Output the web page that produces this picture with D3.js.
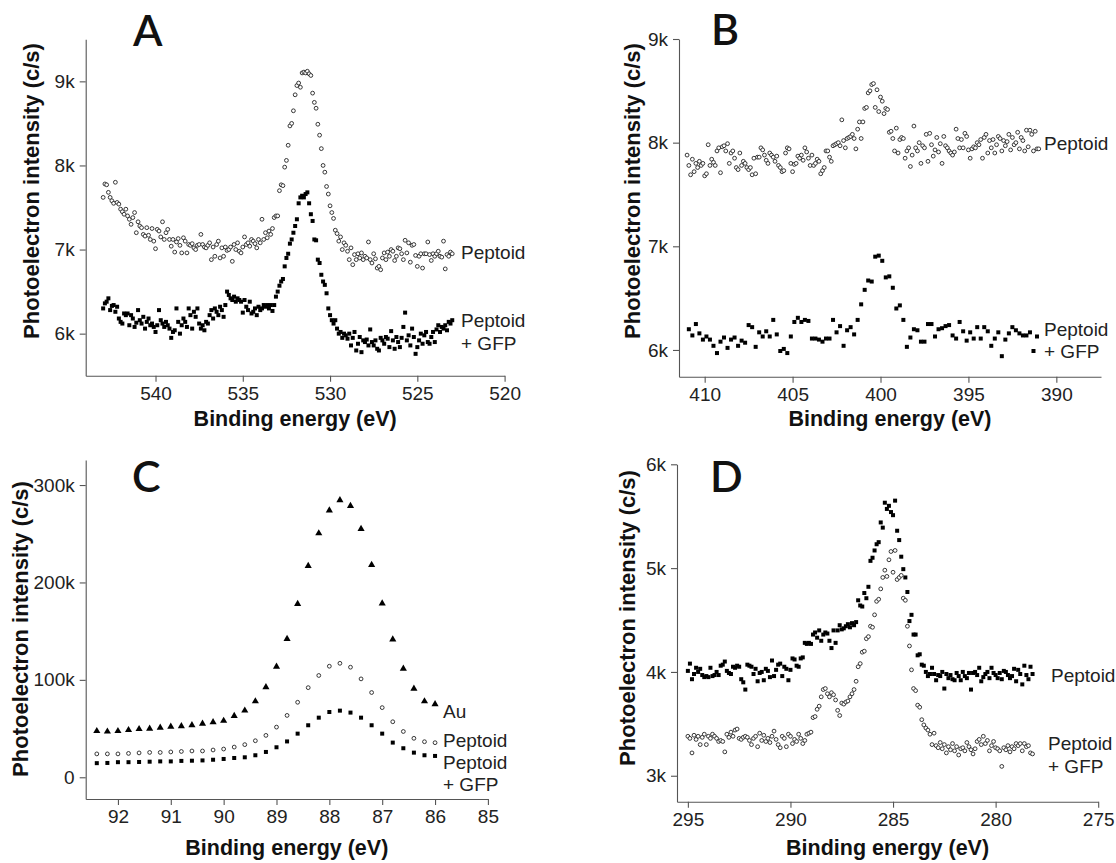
<!DOCTYPE html>
<html>
<head>
<meta charset="utf-8">
<script src="https://cdn.jsdelivr.net/npm/d3@7"></script>
<style>
body { margin: 0; background: #fff; }
svg text { font-family: "Liberation Sans", Arial, sans-serif; }
</style>
</head>
<body>
<svg id="chart" width="1116" height="863"></svg>
<script>
// ---- data : [binding energy (eV), intensity (k c/s)] ----

// panel A, O 1s
var peptoidA = [
[543.0,7.62],[542.9,7.78],[542.8,7.77],[542.7,7.68],[542.6,7.62],[542.5,7.58],[542.4,7.55],[542.3,7.80],[542.2,7.56],[542.1,7.54],
[542.0,7.48],[541.9,7.45],[541.8,7.42],[541.7,7.48],[541.6,7.40],[541.5,7.36],[541.4,7.30],[541.3,7.38],[541.2,7.44],[541.1,7.20],
[541.0,7.33],[540.9,7.28],[540.8,7.26],[540.7,7.18],[540.6,7.16],[540.5,7.26],[540.4,7.17],[540.3,7.12],[540.2,7.25],[540.1,7.10],
[540.0,7.01],[539.9,7.24],[539.8,7.22],[539.7,7.15],[539.6,7.33],[539.5,7.12],[539.4,7.20],[539.3,7.24],[539.2,7.12],[539.1,7.04],
[539.0,7.12],[538.9,6.97],[538.8,7.09],[538.7,7.13],[538.6,7.05],[538.5,6.96],[538.4,7.14],[538.3,7.10],[538.2,6.96],[538.1,7.06],
[538.0,7.05],[537.9,7.07],[537.8,7.02],[537.7,7.00],[537.6,7.05],[537.5,7.06],[537.4,7.18],[537.3,7.06],[537.2,7.03],[537.1,7.02],
[537.0,7.05],[536.9,7.08],[536.8,6.88],[536.7,7.03],[536.6,6.92],[536.5,7.06],[536.4,7.10],[536.3,6.90],[536.2,7.02],[536.1,6.92],
[536.0,7.03],[535.9,6.99],[535.8,7.00],[535.7,7.03],[535.6,6.86],[535.5,7.06],[535.4,7.00],[535.3,7.08],[535.2,6.98],[535.1,6.96],
[535.0,7.03],[534.9,7.15],[534.8,7.06],[534.7,7.08],[534.6,7.04],[534.5,7.12],[534.4,7.10],[534.3,7.07],[534.2,7.02],[534.1,7.12],
[534.0,7.08],[533.9,7.36],[533.8,7.12],[533.7,7.20],[533.6,7.14],[533.5,7.22],[533.4,7.18],[533.3,7.25],[533.2,7.38],[533.1,7.40],
[533.0,7.40],[532.9,7.70],[532.8,7.77],[532.7,7.76],[532.6,7.98],[532.5,8.06],[532.4,8.24],[532.3,8.47],[532.2,8.50],[532.1,8.65],
[532.0,8.84],[531.9,8.95],[531.8,8.98],[531.7,8.93],[531.6,9.10],[531.5,9.11],[531.4,9.10],[531.3,9.12],[531.2,9.09],[531.1,9.07],
[531.0,8.86],[530.9,8.75],[530.8,8.68],[530.7,8.49],[530.6,8.36],[530.5,8.20],[530.4,8.00],[530.3,7.92],[530.2,7.75],[530.1,7.66],
[530.0,7.52],[529.9,7.44],[529.8,7.37],[529.7,7.23],[529.6,7.19],[529.5,7.10],[529.4,7.15],[529.3,7.00],[529.2,7.08],[529.1,7.05],
[529.0,6.98],[528.9,6.88],[528.8,7.02],[528.7,6.82],[528.6,6.94],[528.5,6.88],[528.4,6.95],[528.3,6.90],[528.2,6.96],[528.1,6.88],
[528.0,6.92],[527.9,6.90],[527.8,7.09],[527.7,6.88],[527.6,6.84],[527.5,6.95],[527.4,6.89],[527.3,6.78],[527.2,6.80],[527.1,6.76],
[527.0,6.90],[526.9,6.96],[526.8,6.88],[526.7,6.97],[526.6,6.92],[526.5,7.00],[526.4,6.98],[526.3,6.87],[526.2,6.92],[526.1,7.02],
[526.0,7.01],[525.9,6.95],[525.8,6.88],[525.7,7.11],[525.6,6.96],[525.5,7.08],[525.4,6.85],[525.3,7.05],[525.2,7.06],[525.1,6.93],
[525.0,6.80],[524.9,6.92],[524.8,6.95],[524.7,6.78],[524.6,6.95],[524.5,6.95],[524.4,7.09],[524.3,6.94],[524.2,6.87],[524.1,6.95],
[524.0,6.92],[523.9,6.95],[523.8,6.98],[523.7,6.92],[523.6,6.91],[523.5,7.10],[523.4,6.77],[523.3,6.94],[523.2,6.92],[523.1,6.97],
[523.0,6.95]
];
var gfpA = [
[543.0,6.30],[542.9,6.36],[542.8,6.38],[542.7,6.42],[542.6,6.28],[542.5,6.33],[542.4,6.34],[542.3,6.26],[542.2,6.32],[542.1,6.18],
[542.0,6.14],[541.9,6.12],[541.8,6.24],[541.7,6.22],[541.6,6.24],[541.5,6.10],[541.4,6.22],[541.3,6.18],[541.2,6.08],[541.1,6.13],
[541.0,6.28],[540.9,6.16],[540.8,6.12],[540.7,6.20],[540.6,6.06],[540.5,6.14],[540.4,6.18],[540.3,6.10],[540.2,6.12],[540.1,6.08],
[540.0,6.02],[539.9,6.10],[539.8,6.28],[539.7,6.16],[539.6,6.12],[539.5,6.08],[539.4,6.14],[539.3,6.10],[539.2,6.06],[539.1,5.95],
[539.0,6.02],[538.9,6.04],[538.8,6.30],[538.7,6.14],[538.6,6.00],[538.5,6.10],[538.4,6.18],[538.3,6.14],[538.2,6.08],[538.1,6.30],
[538.0,6.22],[537.9,6.06],[537.8,6.26],[537.7,6.20],[537.6,6.30],[537.5,6.12],[537.4,6.06],[537.3,6.10],[537.2,6.04],[537.1,6.14],
[537.0,6.12],[536.9,6.22],[536.8,6.28],[536.7,6.18],[536.6,6.30],[536.5,6.26],[536.4,6.22],[536.3,6.32],[536.2,6.28],[536.1,6.20],
[536.0,6.34],[535.9,6.50],[535.8,6.46],[535.7,6.42],[535.6,6.40],[535.5,6.44],[535.4,6.38],[535.3,6.42],[535.2,6.40],[535.1,6.38],
[535.0,6.25],[534.9,6.40],[534.8,6.32],[534.7,6.28],[534.6,6.38],[534.5,6.24],[534.4,6.26],[534.3,6.30],[534.2,6.22],[534.1,6.32],
[534.0,6.28],[533.9,6.30],[533.8,6.34],[533.7,6.32],[533.6,6.34],[533.5,6.30],[533.4,6.34],[533.3,6.27],[533.2,6.34],[533.1,6.44],
[533.0,6.50],[532.9,6.57],[532.8,6.62],[532.7,6.65],[532.6,6.80],[532.5,6.90],[532.4,6.95],[532.3,7.07],[532.2,7.12],[532.1,7.20],
[532.0,7.28],[531.9,7.36],[531.8,7.55],[531.7,7.62],[531.6,7.64],[531.5,7.62],[531.4,7.66],[531.3,7.68],[531.2,7.55],[531.1,7.42],
[531.0,7.34],[530.9,7.12],[530.8,7.11],[530.7,6.88],[530.6,6.84],[530.5,6.70],[530.4,6.62],[530.3,6.58],[530.2,6.48],[530.1,6.30],
[530.0,6.22],[529.9,6.16],[529.8,6.12],[529.7,6.16],[529.6,6.06],[529.5,6.00],[529.4,6.02],[529.3,5.95],[529.2,6.00],[529.1,5.98],
[529.0,5.94],[528.9,6.00],[528.8,5.86],[528.7,5.95],[528.6,6.02],[528.5,5.80],[528.4,5.88],[528.3,5.96],[528.2,5.78],[528.1,5.92],
[528.0,5.90],[527.9,5.93],[527.8,5.86],[527.7,6.05],[527.6,5.90],[527.5,5.86],[527.4,5.92],[527.3,5.82],[527.2,5.80],[527.1,5.95],
[527.0,5.92],[526.9,5.88],[526.8,5.96],[526.7,5.94],[526.6,5.84],[526.5,6.03],[526.4,5.92],[526.3,5.82],[526.2,5.96],[526.1,5.90],
[526.0,5.84],[525.9,5.95],[525.8,6.08],[525.7,6.25],[525.6,5.92],[525.5,5.98],[525.4,5.86],[525.3,6.06],[525.2,5.96],[525.1,5.76],
[525.0,5.84],[524.9,5.92],[524.8,6.00],[524.7,5.88],[524.6,5.98],[524.5,6.02],[524.4,5.90],[524.3,5.88],[524.2,5.96],[524.1,6.02],
[524.0,5.90],[523.9,6.05],[523.8,6.10],[523.7,6.02],[523.6,6.08],[523.5,6.06],[523.4,6.10],[523.3,6.04],[523.2,6.14],[523.1,6.12],
[523.0,6.16]
];

// panel B, N 1s
var peptoidB = [
[411.0,7.88],[410.9,7.78],[410.8,7.69],[410.7,7.84],[410.6,7.72],[410.5,7.80],[410.4,7.76],[410.3,7.82],[410.2,7.78],[410.1,7.80],
[410.0,7.68],[409.9,7.70],[409.8,7.98],[409.7,7.78],[409.6,7.84],[409.5,7.81],[409.4,7.78],[409.3,7.92],[409.2,7.95],[409.1,7.71],
[409.0,7.96],[408.9,7.97],[408.8,7.92],[408.7,7.99],[408.6,7.80],[408.5,7.90],[408.4,7.92],[408.3,7.85],[408.2,7.76],[408.1,7.74],
[408.0,7.90],[407.9,7.78],[407.8,7.82],[407.7,7.80],[407.6,7.76],[407.5,7.74],[407.4,7.76],[407.3,7.69],[407.2,7.85],[407.1,7.70],
[407.0,7.86],[406.9,7.86],[406.8,7.95],[406.7,7.93],[406.6,7.88],[406.5,7.83],[406.4,7.80],[406.3,7.90],[406.2,7.88],[406.1,7.86],
[406.0,7.82],[405.9,7.87],[405.8,7.78],[405.7,7.76],[405.6,7.72],[405.5,7.73],[405.4,7.90],[405.3,7.95],[405.2,7.94],[405.1,7.80],
[405.0,7.72],[404.9,7.79],[404.8,7.80],[404.7,7.87],[404.6,7.85],[404.5,7.88],[404.4,7.83],[404.3,7.95],[404.2,7.91],[404.1,7.85],
[404.0,7.78],[403.9,7.88],[403.8,7.78],[403.7,7.80],[403.6,7.84],[403.5,7.82],[403.4,7.70],[403.3,7.73],[403.2,7.76],[403.1,7.92],
[403.0,7.92],[402.9,7.86],[402.8,7.82],[402.7,7.97],[402.6,7.98],[402.5,7.99],[402.4,8.00],[402.3,7.97],[402.2,8.22],[402.1,8.02],
[402.0,7.95],[401.9,8.04],[401.8,8.05],[401.7,8.06],[401.6,8.08],[401.5,8.04],[401.4,7.94],[401.3,8.13],[401.2,8.20],[401.1,8.04],
[401.0,8.20],[400.9,8.33],[400.8,8.34],[400.7,8.48],[400.6,8.50],[400.5,8.56],[400.4,8.57],[400.3,8.34],[400.2,8.51],[400.1,8.30],
[400.0,8.44],[399.9,8.40],[399.8,8.28],[399.7,8.33],[399.6,8.32],[399.5,8.10],[399.4,8.11],[399.3,8.04],[399.2,7.92],[399.1,8.14],
[399.0,7.90],[398.9,8.03],[398.8,8.05],[398.7,8.04],[398.6,7.85],[398.5,7.92],[398.4,7.95],[398.3,7.77],[398.2,7.88],[398.1,8.16],
[398.0,7.95],[397.9,7.92],[397.8,8.00],[397.7,7.80],[397.6,7.97],[397.5,7.95],[397.4,8.08],[397.3,7.82],[397.2,8.09],[397.1,7.98],
[397.0,7.87],[396.9,7.93],[396.8,8.05],[396.7,7.91],[396.6,7.99],[396.5,7.80],[396.4,8.06],[396.3,7.97],[396.2,7.95],[396.1,7.92],
[396.0,7.90],[395.9,7.88],[395.8,7.91],[395.7,8.13],[395.6,8.04],[395.5,7.95],[395.4,8.03],[395.3,7.95],[395.2,8.09],[395.1,8.06],
[395.0,7.93],[394.9,7.85],[394.8,7.94],[394.7,7.96],[394.6,7.95],[394.5,8.00],[394.4,7.98],[394.3,8.03],[394.2,7.85],[394.1,8.05],
[394.0,8.08],[393.9,7.90],[393.8,8.02],[393.7,7.95],[393.6,8.03],[393.5,7.90],[393.4,7.98],[393.3,8.06],[393.2,8.04],[393.1,7.92],
[393.0,8.02],[392.9,7.97],[392.8,8.01],[392.7,8.08],[392.6,7.93],[392.5,8.05],[392.4,7.98],[392.3,8.00],[392.2,8.10],[392.1,7.94],
[392.0,8.05],[391.9,8.02],[391.8,7.92],[391.7,8.12],[391.6,7.96],[391.5,8.12],[391.4,8.08],[391.3,7.92],[391.2,8.11],[391.1,7.94],
[391.0,7.94]
];
var gfpB = [
[410.9,6.20],[410.7,6.14],[410.5,6.25],[410.3,6.16],[410.1,6.10],[409.9,6.13],[409.7,6.10],[409.5,6.04],[409.3,5.97],[409.1,6.08],
[408.9,6.12],[408.7,6.02],[408.5,6.10],[408.3,6.12],[408.1,6.04],[407.9,6.09],[407.7,6.07],[407.5,6.24],[407.3,6.22],[407.1,6.03],
[406.9,6.17],[406.7,6.13],[406.5,6.18],[406.3,6.13],[406.1,6.29],[405.9,6.15],[405.7,5.99],[405.5,6.01],[405.3,5.97],[405.1,6.13],
[404.9,6.27],[404.7,6.31],[404.5,6.27],[404.3,6.29],[404.1,6.28],[403.9,6.11],[403.7,6.11],[403.5,6.10],[403.3,6.08],[403.1,6.11],
[402.9,6.11],[402.7,6.29],[402.5,6.17],[402.3,6.23],[402.1,6.04],[401.9,6.19],[401.7,6.22],[401.5,6.15],[401.3,6.29],[401.1,6.44],
[400.9,6.58],[400.7,6.67],[400.5,6.66],[400.3,6.90],[400.1,6.91],[399.9,6.86],[399.7,6.70],[399.5,6.71],[399.3,6.60],[399.1,6.40],
[398.9,6.43],[398.7,6.29],[398.5,6.03],[398.3,6.12],[398.1,6.20],[397.9,6.19],[397.7,6.08],[397.5,6.08],[397.3,6.25],[397.1,6.25],
[396.9,6.13],[396.7,6.20],[396.5,6.21],[396.3,6.23],[396.1,6.24],[395.9,6.14],[395.7,6.11],[395.5,6.27],[395.3,6.18],[395.1,6.09],
[394.9,6.17],[394.7,6.11],[394.5,6.22],[394.3,6.11],[394.1,6.22],[393.9,6.18],[393.7,6.04],[393.5,6.11],[393.3,6.17],[393.1,5.94],
[392.9,6.10],[392.7,6.16],[392.5,6.22],[392.3,6.19],[392.1,6.16],[391.9,6.14],[391.7,6.14],[391.5,6.17],[391.3,5.99],[391.1,6.13]
];

// panel C, Au 4f
var auC = [
[92.4,47.5],[92.2,47.0],[92.0,47.5],[91.8,48.5],[91.6,49.5],[91.4,50.0],[91.2,51.0],[91.0,52.0],[90.8,52.5],[90.6,53.5],
[90.4,55.0],[90.2,56.5],[90.0,58.0],[89.8,63.0],[89.6,68.5],[89.4,78.0],[89.2,92.5],[89.0,113.5],[88.8,142.0],[88.6,178.0],
[88.4,217.0],[88.2,250.5],[88.0,274.0],[87.8,284.5],[87.6,278.5],[87.4,255.0],[87.2,218.0],[87.0,178.5],[86.8,141.5],[86.6,111.5],
[86.4,91.0],[86.2,78.0],[86.0,75.0]
];
var peptoidC = [
[92.4,24.0],[92.2,24.0],[92.0,24.0],[91.8,24.5],[91.6,25.0],[91.4,25.5],[91.2,25.5],[91.0,26.0],[90.8,26.5],[90.6,27.0],
[90.4,27.0],[90.2,28.0],[90.0,29.0],[89.8,31.0],[89.6,33.5],[89.4,37.5],[89.2,43.0],[89.0,51.5],[88.8,63.5],[88.6,77.0],
[88.4,92.0],[88.2,104.5],[88.0,114.0],[87.8,117.0],[87.6,113.0],[87.4,101.0],[87.2,87.0],[87.0,71.5],[86.8,57.0],[86.6,47.0],
[86.4,40.0],[86.2,36.5],[86.0,35.5]
];
var gfpC = [
[92.4,14.5],[92.2,14.7],[92.0,15.5],[91.8,15.5],[91.6,15.7],[91.4,16.0],[91.2,16.3],[91.0,16.3],[90.8,16.8],[90.6,17.0],
[90.4,17.3],[90.2,18.0],[90.0,18.8],[89.8,19.8],[89.6,20.5],[89.4,22.6],[89.2,26.0],[89.0,30.8],[88.8,36.8],[88.6,44.8],
[88.4,53.4],[88.2,61.2],[88.0,67.0],[87.8,68.4],[87.6,66.4],[87.4,61.2],[87.2,53.4],[87.0,44.8],[86.8,35.6],[86.6,29.8],
[86.4,25.3],[86.2,22.6],[86.0,21.9]
];

// panel D, C 1s
var peptoidD = [
[295.0,4.01],[294.9,4.08],[294.8,3.93],[294.7,3.98],[294.6,4.04],[294.5,4.00],[294.4,4.03],[294.3,3.97],[294.2,3.95],[294.1,3.96],
[294.0,3.95],[293.9,4.04],[293.8,3.96],[293.7,3.97],[293.6,4.00],[293.5,3.97],[293.4,4.06],[293.3,4.07],[293.2,4.10],[293.1,4.01],
[293.0,3.99],[292.9,3.98],[292.8,4.05],[292.7,4.04],[292.6,4.06],[292.5,4.05],[292.4,3.93],[292.3,3.90],[292.2,3.83],[292.1,4.07],
[292.0,4.06],[291.9,4.05],[291.8,3.98],[291.7,4.03],[291.6,3.91],[291.5,3.99],[291.4,4.00],[291.3,3.92],[291.2,4.03],[291.1,4.01],
[291.0,3.95],[290.9,4.11],[290.8,3.96],[290.7,4.02],[290.6,4.07],[290.5,4.08],[290.4,3.96],[290.3,4.05],[290.2,4.03],[290.1,3.92],
[290.0,4.02],[289.9,4.13],[289.8,4.12],[289.7,4.06],[289.6,4.05],[289.5,4.13],[289.4,4.14],[289.3,4.28],[289.2,4.27],[289.1,4.28],
[289.0,4.27],[288.9,4.36],[288.8,4.38],[288.7,4.33],[288.6,4.40],[288.5,4.30],[288.4,4.36],[288.3,4.38],[288.2,4.37],[288.1,4.30],
[288.0,4.23],[287.9,4.40],[287.8,4.28],[287.7,4.40],[287.6,4.45],[287.5,4.41],[287.4,4.42],[287.3,4.44],[287.2,4.46],[287.1,4.43],
[287.0,4.47],[286.9,4.45],[286.8,4.48],[286.7,4.69],[286.6,4.64],[286.5,4.63],[286.4,4.76],[286.3,4.71],[286.2,4.82],[286.1,5.07],
[286.0,5.10],[285.9,5.17],[285.8,5.23],[285.7,5.25],[285.6,5.44],[285.5,5.39],[285.4,5.63],[285.3,5.57],[285.2,5.60],[285.1,5.54],
[285.0,5.51],[284.9,5.65],[284.8,5.36],[284.7,5.27],[284.6,5.11],[284.5,4.99],[284.4,4.91],[284.3,4.77],[284.2,4.49],[284.1,4.55],
[284.0,4.36],[283.9,4.36],[283.8,4.16],[283.7,4.17],[283.6,4.07],[283.5,4.06],[283.4,4.00],[283.3,3.96],[283.2,3.98],[283.1,4.04],
[283.0,3.98],[282.9,3.92],[282.8,3.97],[282.7,3.96],[282.6,4.00],[282.5,3.84],[282.4,3.98],[282.3,3.94],[282.2,3.97],[282.1,3.93],
[282.0,3.92],[281.9,3.99],[281.8,3.96],[281.7,3.92],[281.6,4.00],[281.5,3.96],[281.4,3.94],[281.3,3.99],[281.2,3.83],[281.1,3.99],
[281.0,4.00],[280.9,3.97],[280.8,4.04],[280.7,3.91],[280.6,3.95],[280.5,3.98],[280.4,4.00],[280.3,3.94],[280.2,4.04],[280.1,3.99],
[280.0,3.97],[279.9,3.94],[279.8,3.99],[279.7,3.93],[279.6,4.01],[279.5,4.00],[279.4,3.97],[279.3,3.94],[279.2,3.96],[279.1,4.03],
[279.0,3.91],[278.9,4.02],[278.8,3.98],[278.7,3.88],[278.6,4.06],[278.5,3.97],[278.4,3.93],[278.3,4.05],[278.2,3.98]
];
var gfpD = [
[295.0,3.38],[294.9,3.36],[294.8,3.22],[294.7,3.39],[294.6,3.35],[294.5,3.38],[294.4,3.30],[294.3,3.37],[294.2,3.40],[294.1,3.30],
[294.0,3.38],[293.9,3.36],[293.8,3.40],[293.7,3.38],[293.6,3.36],[293.5,3.33],[293.4,3.34],[293.3,3.33],[293.2,3.23],[293.1,3.40],
[293.0,3.37],[292.9,3.42],[292.8,3.38],[292.7,3.44],[292.6,3.45],[292.5,3.36],[292.4,3.35],[292.3,3.37],[292.2,3.38],[292.1,3.37],
[292.0,3.34],[291.9,3.30],[291.8,3.36],[291.7,3.38],[291.6,3.28],[291.5,3.41],[291.4,3.34],[291.3,3.39],[291.2,3.33],[291.1,3.36],
[291.0,3.32],[290.9,3.38],[290.8,3.43],[290.7,3.35],[290.6,3.30],[290.5,3.27],[290.4,3.38],[290.3,3.36],[290.2,3.28],[290.1,3.40],
[290.0,3.38],[289.9,3.31],[289.8,3.35],[289.7,3.33],[289.6,3.40],[289.5,3.36],[289.4,3.31],[289.3,3.34],[289.2,3.40],[289.1,3.41],
[289.0,3.42],[288.9,3.56],[288.8,3.57],[288.7,3.64],[288.6,3.67],[288.5,3.76],[288.4,3.83],[288.3,3.84],[288.2,3.79],[288.1,3.76],
[288.0,3.80],[287.9,3.78],[287.8,3.73],[287.7,3.63],[287.6,3.58],[287.5,3.70],[287.4,3.69],[287.3,3.71],[287.2,3.72],[287.1,3.76],
[287.0,3.79],[286.9,3.83],[286.8,3.91],[286.7,4.05],[286.6,4.08],[286.5,4.19],[286.4,4.20],[286.3,4.32],[286.2,4.34],[286.1,4.44],
[286.0,4.43],[285.9,4.55],[285.8,4.68],[285.7,4.70],[285.6,4.80],[285.5,4.91],[285.4,4.98],[285.3,4.92],[285.2,5.08],[285.1,5.16],
[285.0,4.96],[284.9,5.17],[284.8,4.89],[284.7,4.91],[284.6,4.93],[284.5,4.71],[284.4,4.69],[284.3,4.44],[284.2,4.25],[284.1,4.02],
[284.0,3.84],[283.9,3.82],[283.8,3.68],[283.7,3.66],[283.6,3.54],[283.5,3.49],[283.4,3.46],[283.3,3.44],[283.2,3.40],[283.1,3.30],
[283.0,3.41],[282.9,3.29],[282.8,3.27],[282.7,3.32],[282.6,3.26],[282.5,3.30],[282.4,3.22],[282.3,3.28],[282.2,3.25],[282.1,3.31],
[282.0,3.24],[281.9,3.28],[281.8,3.20],[281.7,3.26],[281.6,3.27],[281.5,3.24],[281.4,3.32],[281.3,3.28],[281.2,3.25],[281.1,3.21],
[281.0,3.26],[280.9,3.33],[280.8,3.35],[280.7,3.30],[280.6,3.38],[280.5,3.31],[280.4,3.34],[280.3,3.24],[280.2,3.29],[280.1,3.33],
[280.0,3.27],[279.9,3.26],[279.8,3.24],[279.7,3.09],[279.6,3.27],[279.5,3.25],[279.4,3.29],[279.3,3.23],[279.2,3.28],[279.1,3.26],
[279.0,3.31],[278.9,3.29],[278.8,3.31],[278.7,3.24],[278.6,3.31],[278.5,3.28],[278.4,3.29],[278.3,3.22],[278.2,3.21]
];

// ticks
var xTicksA = [540, 535, 530, 525, 520];
var yTicksA = [6, 7, 8, 9];
var xTicksB = [410, 405, 400, 395, 390];
var yTicksB = [6, 7, 8, 9];
var xTicksC = [92, 91, 90, 89, 88, 87, 86, 85];
var yTicksC = [0, 100, 200, 300];
var xTicksD = [295, 290, 285, 280, 275];
var yTicksD = [3, 4, 5, 6];

var kFormat = function(d) { return d === 0 ? "0" : d + "k"; };

var panels = [
  { letter: "A", lx: 133, ly: 46,
    left: 85.7, right: 504.6, top: 39.3, bottom: 375.7,
    xDomain: [544, 520], yDomain: [5.5, 9.5], xTicks: xTicksA, yTicks: yTicksA,
    yTitle: [39, 191], xTitleY: 426,
    series: [ { data: peptoidA, shape: "circle" }, { data: gfpA, shape: "square" } ],
    labels: [ { x: 461, y: 252, t: ["Peptoid"] }, { x: 461, y: 320, t: ["Peptoid", "+ GFP"], dy: 23 } ] },
  { letter: "B", lx: 711, ly: 45,
    left: 679, right: 1101, top: 39, bottom: 376.7,
    xDomain: [411.46, 387.46], yDomain: [5.742, 9], xTicks: xTicksB, yTicks: yTicksB,
    yTitle: [640, 191], xTitleY: 426,
    series: [ { data: peptoidB, shape: "circle" }, { data: gfpB, shape: "square" } ],
    labels: [ { x: 1044, y: 143, t: ["Peptoid"] }, { x: 1044, y: 329, t: ["Peptoid", "+ GFP"], dy: 22 } ] },
  { letter: "C", lx: 132, ly: 492,
    left: 85.7, right: 487.9, top: 460, bottom: 799,
    xDomain: [92.61, 85], yDomain: [-22.3, 325.7], xTicks: xTicksC, yTicks: yTicksC,
    yTitle: [28, 629], xTitleY: 855,
    series: [ { data: auC, shape: "triangle" }, { data: peptoidC, shape: "circle" }, { data: gfpC, shape: "square" } ],
    labels: [ { x: 443, y: 711, t: ["Au"] }, { x: 443, y: 740, t: ["Peptoid"] }, { x: 443, y: 762, t: ["Peptoid", "+ GFP"], dy: 22.5 } ] },
  { letter: "D", lx: 710, ly: 492,
    left: 677, right: 1098.2, top: 464.3, bottom: 801.7,
    xDomain: [295.53, 275], yDomain: [2.75, 6], xTicks: xTicksD, yTicks: yTicksD,
    yTitle: [635, 618], xTitleY: 855,
    series: [ { data: peptoidD, shape: "square" }, { data: gfpD, shape: "circle" } ],
    labels: [ { x: 1051, y: 675, t: ["Peptoid"] }, { x: 1048, y: 743, t: ["Peptoid", "+ GFP"], dy: 23 } ] }
];

var svg = d3.select("#chart");

var drawPanel = function(p) {
  var g = svg.append("g");
  var x = d3.scaleLinear().domain(p.xDomain).range([p.left, p.right]);
  var y = d3.scaleLinear().domain(p.yDomain).range([p.bottom, p.top]);

  var xa = g.append("g")
    .attr("transform", "translate(0," + p.bottom + ")")
    .call(d3.axisBottom(x).tickValues(p.xTicks).tickSize(6).tickSizeOuter(0).tickPadding(5).tickFormat(d3.format("d")));
  var ya = g.append("g")
    .attr("transform", "translate(" + p.left + ",0)")
    .call(d3.axisLeft(y).tickValues(p.yTicks).tickSize(6).tickSizeOuter(0).tickPadding(5).tickFormat(kFormat));
  [xa, ya].forEach(function(a) {
    a.attr("font-family", null).attr("font-size", null);
    a.selectAll("path, line").attr("stroke", "#555").attr("stroke-width", 1.1);
    a.selectAll("text").attr("fill", "#222").style("font-size", "19px");
  });

  p.series.forEach(function(s) {
    var sel = g.append("g").selectAll(null).data(s.data).enter();
    if (s.shape === "circle") {
      sel.append("circle")
        .attr("cx", function(d) { return x(d[0]); })
        .attr("cy", function(d) { return y(d[1]); })
        .attr("r", 1.9)
        .attr("fill", "#fff").attr("stroke", "#222").attr("stroke-width", 0.9);
    } else if (s.shape === "square") {
      sel.append("rect")
        .attr("x", function(d) { return x(d[0]) - 2; })
        .attr("y", function(d) { return y(d[1]) - 2; })
        .attr("width", 4).attr("height", 4)
        .attr("fill", "#000");
    } else {
      sel.append("path")
        .attr("d", d3.symbol(d3.symbolTriangle, 22))
        .attr("transform", function(d) { return "translate(" + x(d[0]) + "," + y(d[1]) + ")"; })
        .attr("fill", "#000");
    }
  });

  p.labels.forEach(function(l) {
    l.t.forEach(function(line, i) {
      g.append("text")
        .attr("x", l.x).attr("y", l.y + i * (l.dy || 0))
        .attr("dy", "0.35em")
        .style("font-size", "19px").attr("fill", "#222")
        .text(line);
    });
  });

  g.append("text")
    .attr("x", (p.left + p.right) / 2).attr("y", p.xTitleY)
    .attr("text-anchor", "middle")
    .style("font-size", "21.5px").style("font-weight", "bold").attr("fill", "#111")
    .text("Binding energy (eV)");

  g.append("text")
    .attr("transform", "translate(" + p.yTitle[0] + "," + p.yTitle[1] + ") rotate(-90)")
    .attr("text-anchor", "middle")
    .style("font-size", "22px").style("font-weight", "bold").attr("fill", "#111")
    .text("Photoelectron intensity (c/s)");

  g.append("text")
    .attr("x", p.lx).attr("y", p.ly)
    .style("font-family", "Lato, 'Open Sans', sans-serif").style("font-size", "43px")
    .style("font-weight", "600").attr("fill", "#111")
    .text(p.letter);
};

panels.forEach(drawPanel);
</script>
</body>
</html>
